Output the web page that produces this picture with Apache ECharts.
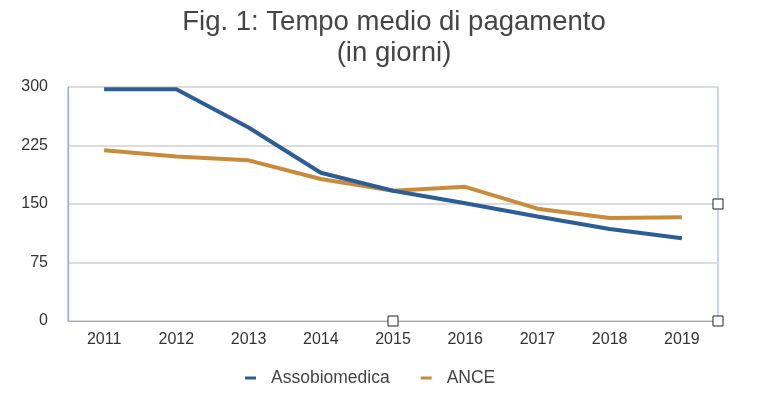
<!DOCTYPE html>
<html>
<head>
<meta charset="utf-8">
<script src="https://cdn.jsdelivr.net/npm/echarts@6/dist/echarts.min.js"></script>
<style>
  html, body { margin: 0; padding: 0; background: #fff; }
  #chart { width: 767px; height: 400px; }
</style>
</head>
<body>
<div id="chart"></div>
<script>
const years = ["2011", "2012", "2013", "2014", "2015", "2016", "2017", "2018", "2019"];
const assobiomedica = [297, 297, 248, 190, 167, 151, 134, 118, 106];
const ance = [219, 211, 206, 182, 167, 172, 144, 132, 133];
const yTicks = [0, 75, 150, 225, 300];

const chart = echarts.init(document.getElementById("chart"));
const font = "'Liberation Sans', Arial, sans-serif";

// small selection handles seen in the screenshot
const handle = (x, y) => ({
  type: "rect",
  shape: { x: x - 5, y: y - 5, width: 10, height: 10 },
  style: { fill: "#fff", stroke: "#222", lineWidth: 1 },
  z: 10,
});

chart.setOption({
  animation: false,
  title: {
    text: "Fig. 1: Tempo medio di pagamento\n(in giorni)",
    left: 389,
    textAlign: "center",
    top: 2,
    textStyle: {
      fontFamily: font,
      fontWeight: "normal",
      fontSize: 27.5,
      lineHeight: 31,
      color: "#444",
      align: "center",
    },
  },
  grid: {
    left: 68,
    right: 49,
    top: 87,
    bottom: 79,
    show: true,
    borderColor: "#90a9d6",
    borderWidth: 1,
  },
  legend: {
    bottom: 8,
    left: 240,
    itemGap: 31,
    itemWidth: 11,
    itemHeight: 3,
    icon: "rect",
    textStyle: { fontFamily: font, fontSize: 17.5, color: "#444", padding: [0, 0, 0, 10] },
    data: ["Assobiomedica", "ANCE"],
  },
  xAxis: {
    type: "category",
    data: years,
    boundaryGap: true,
    axisLine: { show: true, lineStyle: { color: "#90a9d6" } },
    axisTick: { show: false },
    axisLabel: { fontFamily: font, fontSize: 16, color: "#333", margin: 11 },
  },
  yAxis: {
    type: "value",
    min: yTicks[0],
    max: yTicks[yTicks.length - 1],
    interval: 75,
    axisLine: { show: true, lineStyle: { color: "#90a9d6" } },
    axisTick: { show: false },
    axisLabel: { fontFamily: font, fontSize: 16, color: "#333", margin: 20 },
    splitLine: { lineStyle: { color: "#dcdcdc", width: 2 } },
  },
  series: [
    {
      name: "Assobiomedica",
      type: "line",
      data: assobiomedica,
      showSymbol: false,
      symbol: "none",
      lineStyle: { width: 4, color: "#2c5d94" },
      itemStyle: { color: "#2c5d94" },
      z: 3,
    },
    {
      name: "ANCE",
      type: "line",
      data: ance,
      showSymbol: false,
      symbol: "none",
      lineStyle: { width: 4, color: "#c98a3c" },
      itemStyle: { color: "#c98a3c" },
      z: 2,
    },
  ],
  graphic: [handle(393, 321), handle(718, 204), handle(718, 321)],
});
</script>
</body>
</html>
